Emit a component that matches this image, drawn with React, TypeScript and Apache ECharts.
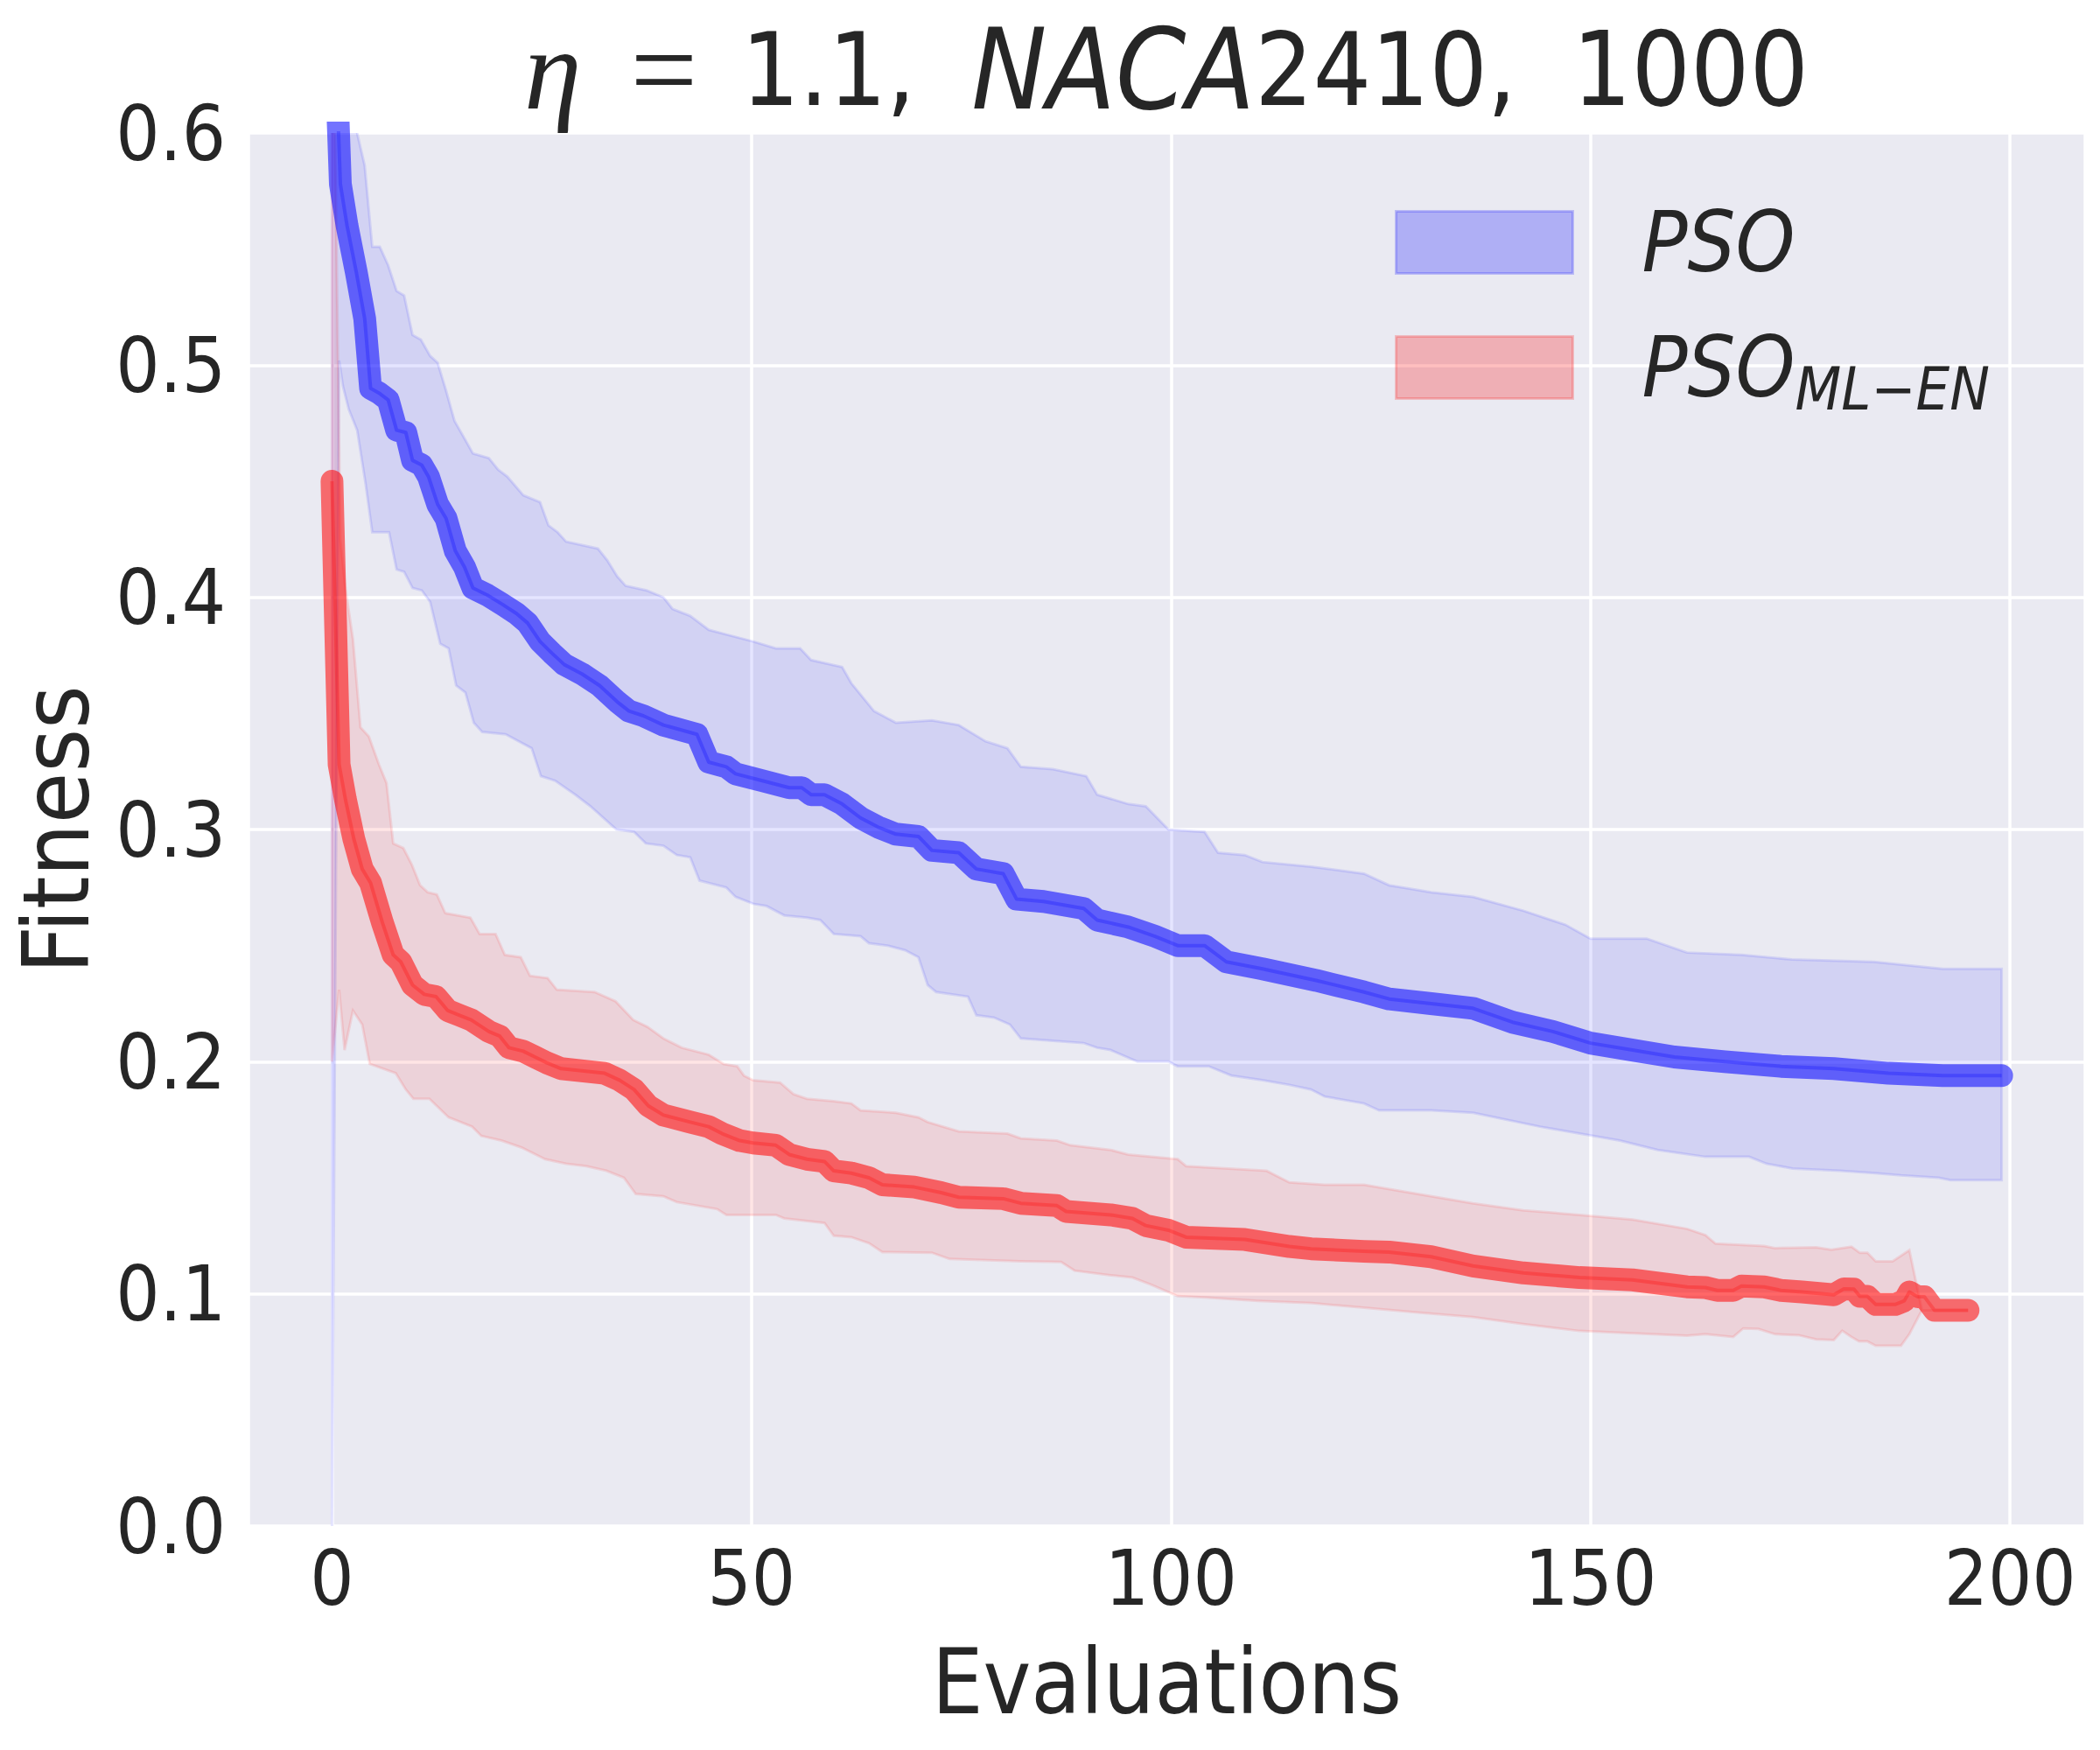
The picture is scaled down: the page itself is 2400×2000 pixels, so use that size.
import React, { useEffect, useRef } from 'react';
import * as echarts from 'echarts';

// ---- data ----
const titleText = '{eta|η}{eq|=}{n|1.1,}{it|NACA}{n|2410,}{m|1000}';
const xAxisName = 'Evaluations';
const yAxisName = 'Fitness';
const seriesNames = ['PSO', 'PSO_ML-EN'];
const xRange = [-9.95, 208.95];
const yRange = [0, 0.6];
const yInterval = 0.1;

const psoMean: number[][] = [
  [0, 0.68], [1, 0.578], [1.8, 0.56], [2.9, 0.54], [3.9, 0.52], [4.6, 0.49], [5.6, 0.488], [6.7, 0.485],
  [7.7, 0.472], [8.8, 0.471], [9.6, 0.459], [10.7, 0.457], [11.5, 0.452], [12.6, 0.44], [13.6, 0.434],
  [14.7, 0.42], [15.8, 0.413], [16.8, 0.404], [18.5, 0.401], [20.3, 0.397], [22, 0.393], [23.3, 0.389],
  [24.8, 0.381], [26.2, 0.376], [27.7, 0.371], [29.8, 0.367], [31.9, 0.362], [34, 0.355], [35.4, 0.351],
  [37.1, 0.349], [39.5, 0.345], [43.5, 0.341], [44.9, 0.329], [47, 0.327], [48.1, 0.324], [51.3, 0.321],
  [54.5, 0.318], [56, 0.318], [57.1, 0.315], [58.7, 0.315], [60.8, 0.311], [63, 0.305], [65.1, 0.301],
  [67.2, 0.298], [69.9, 0.297], [71.5, 0.291], [74.7, 0.29], [76.8, 0.283], [80, 0.281], [81.6, 0.27],
  [84.8, 0.269], [89.6, 0.266], [91.2, 0.261], [94.9, 0.258], [98.1, 0.254], [100.8, 0.25], [104, 0.25],
  [106.6, 0.243], [110.9, 0.24], [117.3, 0.235], [123, 0.23], [126, 0.227], [131, 0.225], [136, 0.223],
  [140.7, 0.217], [145.5, 0.213], [150, 0.208], [155, 0.205], [160, 0.202], [166, 0.2], [172.7, 0.198],
  [179, 0.197], [185.5, 0.195], [192, 0.194], [199, 0.194],
];

const psoHigh: number[][] = [
  [0, 0.9], [1, 0.72], [2, 0.65], [3, 0.6], [3.9, 0.586], [4.8, 0.551], [5.7, 0.551], [6.7, 0.543],
  [7.7, 0.532], [8.6, 0.53], [9.6, 0.513], [10.6, 0.511], [11.7, 0.504], [12.6, 0.501], [13.6, 0.489],
  [14.6, 0.476], [15.7, 0.469], [16.8, 0.462], [18.7, 0.46], [19.8, 0.455], [20.9, 0.452], [22.8, 0.444],
  [24.8, 0.441], [25.8, 0.431], [26.9, 0.428], [27.9, 0.424], [31.7, 0.421], [32.8, 0.416], [34, 0.409],
  [35, 0.405], [37.5, 0.403], [39.5, 0.4], [40.6, 0.395], [42.7, 0.392], [44.9, 0.386], [47, 0.384],
  [50.2, 0.381], [52.9, 0.378], [55.8, 0.378], [57.1, 0.373], [60.8, 0.37], [61.9, 0.363], [64.6, 0.351],
  [67.2, 0.346], [71.5, 0.347], [74.7, 0.345], [77.9, 0.338], [80.5, 0.335], [82.1, 0.327], [85.9, 0.326],
  [89.9, 0.323], [91.2, 0.315], [94.9, 0.311], [97, 0.31], [99.7, 0.3], [104, 0.299], [105.6, 0.29],
  [108.8, 0.289], [110.9, 0.286], [116.7, 0.284], [123, 0.281], [126, 0.276], [131, 0.273], [136, 0.271],
  [142, 0.265], [147, 0.259], [150, 0.253], [156.7, 0.253], [161.5, 0.247], [168, 0.246], [174, 0.244],
  [183.8, 0.243], [192, 0.24], [199, 0.24],
];

const psoLow: number[][] = [
  [0, 0.0], [0.85, 0.502], [1.3, 0.491], [2, 0.481], [3, 0.472], [4, 0.449], [4.8, 0.428], [6.8, 0.428],
  [7.7, 0.412], [8.6, 0.411], [9.6, 0.404], [10.7, 0.403], [11.7, 0.398], [12.9, 0.38], [13.9, 0.378],
  [14.8, 0.362], [15.9, 0.359], [16.9, 0.346], [17.9, 0.342], [20.7, 0.341], [23.8, 0.335], [24.9, 0.323],
  [26.6, 0.321], [29, 0.315], [30.8, 0.31], [33.9, 0.3], [36, 0.299], [37.4, 0.294], [39.5, 0.293],
  [41.1, 0.289], [42.7, 0.288], [43.8, 0.278], [47, 0.275], [48.1, 0.271], [50.2, 0.268], [51.8, 0.267],
  [53.9, 0.263], [56.6, 0.262], [58.2, 0.261], [59.8, 0.255], [63, 0.254], [64, 0.251], [66.2, 0.25],
  [68.3, 0.248], [69.9, 0.245], [71, 0.233], [72, 0.23], [75.8, 0.228], [76.8, 0.22], [78.9, 0.219],
  [80.8, 0.216], [82.1, 0.21], [85.9, 0.209], [89.6, 0.208], [91.2, 0.206], [92.8, 0.205], [96, 0.2],
  [99.7, 0.2], [100.8, 0.198], [104.5, 0.198], [107.2, 0.194], [110.9, 0.192], [114.1, 0.19],
  [116.7, 0.188], [118.3, 0.185], [123, 0.182], [124.8, 0.179], [131, 0.179], [136, 0.178], [144, 0.172],
  [148.7, 0.169], [153.5, 0.166], [158, 0.162], [163.7, 0.159], [168.9, 0.159], [171, 0.156],
  [174.1, 0.154], [179.7, 0.153], [183.9, 0.152], [187, 0.151], [191.5, 0.15], [192.9, 0.149], [199, 0.149],
];

const mlMean: number[][] = [
  [0, 0.45], [0.85, 0.328], [1.6, 0.313], [2.6, 0.296], [3.6, 0.283], [4.6, 0.277], [6, 0.26], [7.3, 0.246],
  [8.2, 0.243], [9.6, 0.233], [11, 0.229], [12.4, 0.228], [13.8, 0.222], [15.2, 0.22], [16.6, 0.218],
  [18.7, 0.213], [20, 0.211], [21.1, 0.206], [22.8, 0.2045], [24.2, 0.202], [25.6, 0.1995], [27.3, 0.197],
  [32.5, 0.195], [34.3, 0.192], [36, 0.188], [37.7, 0.181], [39.5, 0.177], [42.7, 0.174], [44.9, 0.172],
  [46.5, 0.169], [48.6, 0.166], [50.2, 0.165], [52.9, 0.164], [54.5, 0.16], [56.6, 0.158], [58.7, 0.157],
  [59.8, 0.153], [61.9, 0.152], [64, 0.15], [65.6, 0.147], [69.4, 0.146], [72.6, 0.1436], [74.7, 0.1416],
  [80, 0.141], [82.1, 0.139], [86.4, 0.138], [87.5, 0.1355], [92.8, 0.134], [95.4, 0.1325], [97, 0.1294],
  [99.7, 0.1274], [101.8, 0.1244], [108.8, 0.1234], [114.1, 0.1204], [116.7, 0.1194], [123, 0.1183],
  [126, 0.118], [131, 0.116], [136, 0.112], [142, 0.109], [148.7, 0.107], [155, 0.106], [161.5, 0.103],
  [163.7, 0.1027], [165.1, 0.1015], [167, 0.1015], [168, 0.1034], [170.7, 0.103], [172.7, 0.1015],
  [175.2, 0.1008], [179, 0.0996], [180.2, 0.1021], [181.4, 0.102], [182.1, 0.0989], [183, 0.0989],
  [184, 0.0954], [186.3, 0.0954], [187.4, 0.097], [188, 0.1008], [189, 0.0987], [189.8, 0.0987],
  [191, 0.0929], [195, 0.0929],
];

const mlHigh: number[][] = [
  [0, 0.7], [1, 0.425], [1.6, 0.404], [2.5, 0.382], [3.4, 0.344], [4.4, 0.34], [5.6, 0.328], [6.5, 0.32],
  [7.3, 0.294], [8.5, 0.292], [9.5, 0.285], [10.5, 0.276], [11.4, 0.273], [12.5, 0.272], [13.5, 0.264],
  [16.5, 0.262], [17.6, 0.255], [19.5, 0.255], [20.6, 0.246], [22.5, 0.245], [23.6, 0.237], [25.7, 0.236],
  [26.8, 0.231], [31.3, 0.23], [33.8, 0.226], [35.9, 0.218], [37.6, 0.215], [39.5, 0.21], [41.7, 0.206],
  [44.9, 0.203], [46.7, 0.199], [48.3, 0.198], [49.1, 0.194], [50.2, 0.192], [53.4, 0.191], [55, 0.186],
  [56.6, 0.184], [59.8, 0.183], [61.9, 0.182], [63, 0.179], [67.2, 0.178], [69.9, 0.176], [71, 0.174],
  [74.7, 0.17], [80.5, 0.169], [82.1, 0.167], [86.4, 0.166], [88, 0.164], [92.8, 0.162], [94.9, 0.16],
  [100.8, 0.158], [101.8, 0.155], [111.4, 0.153], [114.1, 0.148], [118.3, 0.147], [123, 0.147],
  [129.4, 0.143], [136, 0.139], [142, 0.136], [148.7, 0.134], [155, 0.132], [161.5, 0.128],
  [163.7, 0.1253], [164.9, 0.1216], [170.7, 0.1206], [172, 0.1197], [176.9, 0.12], [178.7, 0.119],
  [181.1, 0.1203], [182.1, 0.1177], [183, 0.1177], [184, 0.114], [186, 0.114], [188, 0.1188],
  [189.5, 0.093], [195, 0.0929],
];

const mlLow: number[][] = [
  [0, 0.2], [0.85, 0.231], [1.5, 0.205], [2.5, 0.222], [3.6, 0.216], [4.5, 0.199], [7.6, 0.195],
  [8.8, 0.188], [9.7, 0.184], [11.6, 0.184], [13.9, 0.176], [16.7, 0.172], [17.8, 0.168], [20.2, 0.166],
  [22.6, 0.163], [25.4, 0.158], [27.9, 0.156], [30.3, 0.155], [32.7, 0.153], [34.8, 0.15], [36.2, 0.143],
  [39.5, 0.142], [41.1, 0.1395], [45.9, 0.1365], [47, 0.134], [52.9, 0.134], [53.9, 0.1325],
  [58.7, 0.1305], [59.8, 0.125], [61.9, 0.1244], [64, 0.1218], [65.6, 0.118], [71.5, 0.1177],
  [73.6, 0.115], [82.1, 0.114], [86.9, 0.1137], [88.5, 0.11], [92.8, 0.108], [95.4, 0.107], [97.6, 0.104],
  [100.8, 0.099], [104, 0.0985], [110.4, 0.097], [116.8, 0.096], [123, 0.094], [129.4, 0.092],
  [136, 0.09], [142, 0.087], [148.7, 0.084], [155, 0.083], [161.5, 0.082], [163.7, 0.0826], [167, 0.0814],
  [168.2, 0.0851], [170, 0.0849], [172, 0.0826], [174.8, 0.0822], [176.9, 0.0804], [179, 0.0801],
  [180, 0.0841], [181.1, 0.0814], [182, 0.0795], [183, 0.0795], [184, 0.0776], [187, 0.0776],
  [188, 0.0826], [189.5, 0.093], [195, 0.0929],
];

// ---- styling ----
const FONT = "'DejaVu Sans Condensed', 'DejaVu Sans', sans-serif";
const SERIF = "'Liberation Serif', 'DejaVu Serif', serif";
const TEXT = '#262626';
const BG = '#EAEAF2';

function bandRenderer(high: number[][], low: number[][], fill: string, stroke: string) {
  return (params: any, api: any) => {
    if (params.dataIndex !== 0) return null;
    const top = high.map((p) => api.coord([p[0], p[1]]));
    const bottom = low.slice().reverse().map((p) => api.coord([p[0], p[1]]));
    return {
      type: 'polygon',
      shape: { points: top.concat(bottom) },
      style: { fill, stroke, lineWidth: 3 },
    };
  };
}

export default function App() {
  const ref = useRef<HTMLDivElement>(null);
  useEffect(() => {
    document.body.style.margin = '0';
    const chart = echarts.init(ref.current!, null, { renderer: 'svg' });
    const LH = 130;
    const option: any = {
      animation: false,
      backgroundColor: '#ffffff',
      title: {
        text: titleText,
        left: 1333,
        top: 14,
        textAlign: 'center',
        padding: 0,
        textStyle: {
          fontFamily: FONT,
          fontSize: 116,
          lineHeight: LH,
          fontWeight: 'normal',
          color: TEXT,
          rich: {
            eta: { fontFamily: SERIF, fontStyle: 'italic', fontSize: 132, lineHeight: LH, color: TEXT },
            eq: { fontFamily: SERIF, fontSize: 136, lineHeight: LH, padding: [0, 50, 0, 56], color: TEXT },
            n: { fontFamily: FONT, fontSize: 116, lineHeight: LH, padding: [0, 64, 0, 0], color: TEXT },
            it: { fontFamily: FONT, fontStyle: 'italic', fontSize: 128, lineHeight: LH, color: TEXT },
            m: { fontFamily: FONT, fontSize: 118, lineHeight: LH, color: TEXT },
          },
        },
      },
      legend: {
        orient: 'vertical',
        left: 1594,
        top: 229,
        padding: 0,
        itemWidth: 202,
        itemHeight: 71,
        itemGap: 47,
        selectedMode: false,
        data: [
          { name: seriesNames[0], icon: 'rect', itemStyle: { color: 'rgba(0,0,255,0.25)', borderColor: 'rgba(0,0,255,0.2)', borderWidth: 3 } },
          { name: seriesNames[1], icon: 'rect', itemStyle: { color: 'rgba(255,0,0,0.25)', borderColor: 'rgba(255,0,0,0.2)', borderWidth: 3 } },
        ],
        formatter: (name: string) => {
          const parts = name.split('_');
          return parts.length > 1 ? `{a|${parts[0]}}{s|${parts[1].replace('-', '−')}}` : `{a|${parts[0]}}`;
        },
        textStyle: {
          color: TEXT,
          fontFamily: FONT,
          fontSize: 94,
          lineHeight: 71,
          rich: {
            a: { fontFamily: FONT, fontStyle: 'italic', fontSize: 96, lineHeight: 71, height: 71, padding: [0, 0, 0, 74], color: TEXT },
            s: { fontFamily: FONT, fontStyle: 'italic', fontSize: 68, lineHeight: 71, height: 22, verticalAlign: 'bottom', color: TEXT },
          },
        },
      },
      grid: {
        left: 284,
        right: 17,
        top: 152,
        bottom: 256,
        show: true,
        backgroundColor: BG,
        borderWidth: 0,
        containLabel: false,
        outerBoundsMode: 'none',
      },
      xAxis: {
        type: 'value',
        min: xRange[0],
        max: xRange[1],
        name: xAxisName,
        nameLocation: 'middle',
        nameGap: 126,
        nameTextStyle: { fontFamily: FONT, fontSize: 103, color: TEXT },
        axisLine: { show: false },
        axisTick: { show: false },
        axisLabel: {
          showMinLabel: false,
          showMaxLabel: false,
          margin: 15,
          fontFamily: FONT,
          fontSize: 88,
          color: TEXT,
        },
        splitLine: { show: true, lineStyle: { color: '#ffffff', width: 3.5 } },
      },
      yAxis: {
        type: 'value',
        min: yRange[0],
        max: yRange[1],
        interval: yInterval,
        name: yAxisName,
        nameLocation: 'middle',
        nameGap: 172,
        nameTextStyle: { fontFamily: FONT, fontSize: 106, lineHeight: 96, color: TEXT },
        axisLine: { show: false },
        axisTick: { show: false },
        axisLabel: {
          margin: 26,
          fontFamily: FONT,
          fontSize: 88,
          color: TEXT,
          formatter: (v: number) => v.toFixed(1),
        },
        splitLine: { show: true, lineStyle: { color: '#ffffff', width: 3.5 } },
      },
      series: [
        {
          name: seriesNames[0],
          type: 'custom',
          clip: true,
          silent: true,
          itemStyle: { color: 'rgba(0,0,255,0.25)' },
          renderItem: bandRenderer(psoHigh, psoLow, 'rgba(0,0,255,0.1)', 'rgba(0,0,255,0.1)'),
          data: psoHigh,
          z: 1,
        },
        {
          name: seriesNames[1],
          type: 'custom',
          clip: true,
          silent: true,
          itemStyle: { color: 'rgba(255,0,0,0.25)' },
          renderItem: bandRenderer(mlHigh, mlLow, 'rgba(255,0,0,0.1)', 'rgba(255,0,0,0.1)'),
          data: mlHigh,
          z: 1,
        },
        {
          name: 'psoMeanLine',
          type: 'line',
          data: psoMean,
          showSymbol: false,
          silent: true,
          clip: true,
          lineStyle: { color: 'rgba(0,0,255,0.55)', width: 26, cap: 'round', join: 'round' },
          z: 3,
        },
        {
          name: 'psoMeanCore',
          type: 'line',
          data: psoMean,
          showSymbol: false,
          silent: true,
          clip: true,
          lineStyle: { color: 'rgba(0,0,255,0.25)', width: 4, join: 'round' },
          z: 3,
        },
        {
          name: 'mlMeanLine',
          type: 'line',
          data: mlMean,
          showSymbol: false,
          silent: true,
          clip: true,
          lineStyle: { color: 'rgba(255,0,0,0.55)', width: 26, cap: 'round', join: 'round' },
          z: 4,
        },
        {
          name: 'mlMeanCore',
          type: 'line',
          data: mlMean,
          showSymbol: false,
          silent: true,
          clip: true,
          lineStyle: { color: 'rgba(255,0,0,0.25)', width: 4, join: 'round' },
          z: 4,
        },
      ],
    };
    chart.setOption(option);
    return () => chart.dispose();
  }, []);
  return <div ref={ref} style={{ width: 2400, height: 2000 }} />;
}
